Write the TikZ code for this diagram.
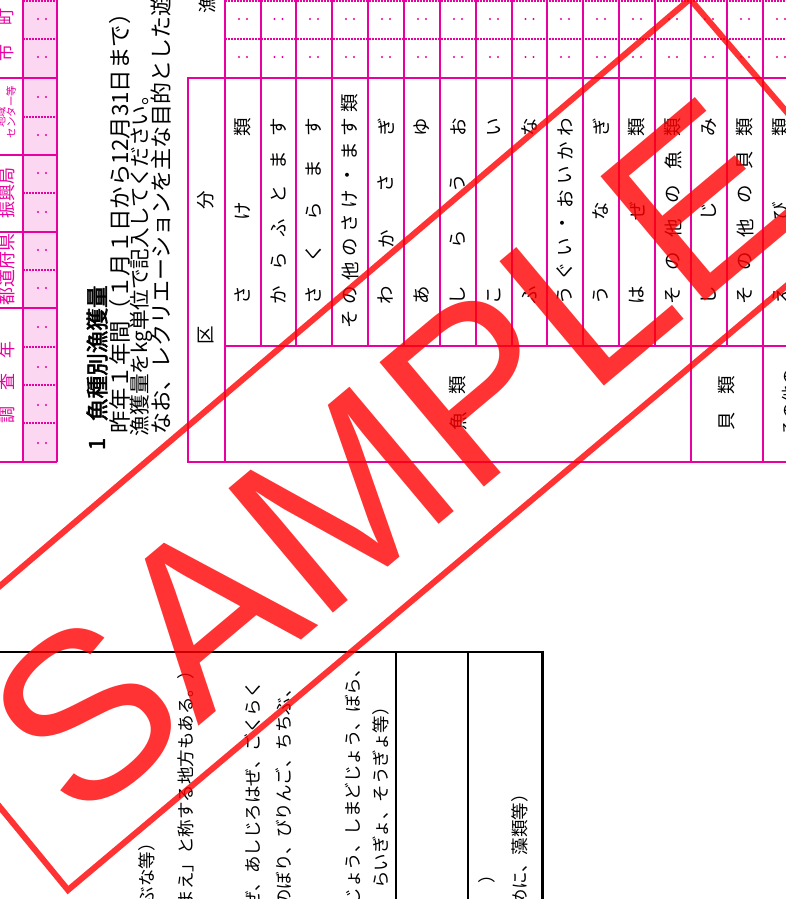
\documentclass[tikz,border=0pt]{standalone}
\usepackage{fontspec}
\newfontfamily\jp[AutoFakeBold=2.5]{Noto Sans CJK JP}
\newfontfamily\lsans{Liberation Sans}
\definecolor{fpink}{RGB}{232,0,160}
\definecolor{fpinkbg}{RGB}{252,215,241}
\definecolor{wred}{RGB}{255,0,0}
\begin{document}
\begin{tikzpicture}[x=1pt,y=-1pt,
  pline/.style={draw=fpink,line width=2pt},
  pdots/.style={draw=fpink,line width=1.8pt,dash pattern=on 1.8pt off 1.2pt},
  bline/.style={draw=black,line width=2.2pt},
  rt/.style={rotate=90,inner sep=0pt,outer sep=0pt},
  spc/.style={rt,font=\jp\fontsize{18.5}{20}\selectfont},
  plab/.style={rt,text=fpink,font=\jp\fontsize{17}{18}\selectfont},
  psmall/.style={rt,text=fpink,font=\jp\fontsize{10.5}{11}\selectfont},
  para/.style={rt,anchor=west,font=\jp\fontsize{22}{22}\selectfont},
  note/.style={rt,anchor=east,font=\jp\fontsize{17.5}{18}\selectfont},
  wm/.style={wred,opacity=0.8},
]
\useasboundingbox (0,0) rectangle (786,899);
\clip (0,0) rectangle (786,899);
\fill[white] (0,0) rectangle (786,899);

% ---------- pink header strip ----------
\fill[fpinkbg] (23,-5) rectangle (57,462);
\foreach \yy in {1,39,117,193,270,347,385,423} \draw[pdots] (23,\yy) -- (57,\yy);
\foreach \yy in {78,155,232,308,462} \draw[pline] (-5,\yy) -- (57,\yy);
\draw[pline] (23,-5) -- (23,462);
\draw[pline] (57,-5) -- (57,462);
\foreach \yy in {19,57,97,135,173,212,250,288,327,367,405,443} {
  \fill[fpink] (38,\yy) circle[radius=1.2pt];
  \fill[fpink] (46,\yy) circle[radius=1.2pt];
}
\node[plab] (lcity) at (6,53) {市};
\node[plab] (ltown) at (6,17) {町};
\node[psmall] (lreg1) at (1,117) {地域};
\node[psmall] (lreg2) at (11,112) {センター等};
\node[plab] (lsub) at (7,193) {振興局};
\node[plab,font=\jp\fontsize{18}{18}\selectfont] (lpref) at (7,269) {都道府県};
\node[plab] (ly1) at (7,415) {調};
\node[plab] (ly2) at (7,382) {査};
\node[plab] (ly3) at (7,350) {年};

% ---------- section heading and instructions ----------
\node[rt,font=\jp\bfseries\fontsize{22}{22}\selectfont] (tnum) at (97,444) {1};
\node[rt,anchor=west,font=\jp\bfseries\fontsize{22.6}{23}\selectfont] (title) at (97,421) {魚種別漁獲量};
\node[para,font=\jp\fontsize{22.4}{23}\selectfont] (p1) at (120,433) {昨年１年間（１月１日から12月31日まで）に};
\node[para,font=\jp\fontsize{20.6}{22}\selectfont] (p2) at (141,436) {漁獲量をkg単位で記入してください。};
\node[para] (p3) at (161,434) {なお、レクリエーションを主な目的とした遊};

% ---------- main table ----------
\foreach \xx in {261,296,332,368,404,440,476,512,547,583,619,655,727} \draw[pline] (\xx,-5) -- (\xx,346);
\foreach \xx in {225,691,763,799} \draw[pline] (\xx,-5) -- (\xx,462);
\draw[pline] (188,78) -- (188,462);
\draw[pline] (187,78) -- (805,78);
\draw[pline] (225,346) -- (805,346);
\draw[pline] (187,462) -- (805,462);
\foreach \yy in {1,39} \draw[pdots] (225,\yy) -- (805,\yy);
\foreach \xc in {243,278.5,314,350,386,422,458,494,529.5,565,601,637,673,709,745,781} {
  \fill[fpink] (\xc-4,19) circle[radius=1.2pt];
  \fill[fpink] (\xc+4,19) circle[radius=1.2pt];
  \fill[fpink] (\xc-4,57) circle[radius=1.2pt];
  \fill[fpink] (\xc+4,57) circle[radius=1.2pt];
}
\node[spc] (hgyo) at (207,4) {漁};
\node[spc] (hku) at (206,335) {区};
\node[spc] (hbun) at (206,200) {分};

\foreach \xc/\ys/\st/\chars [count=\r] in {
  243/295/84/{さ,け,類},
  278.5/295/33.6/{か,ら,ふ,と,ま,す},
  314/295/42/{さ,く,ら,ま,す},
  350/319/24/{そ,の,他,の,さ,け,・,ま,す,類},
  386/295/56/{わ,か,さ,ぎ},
  422/295/168/{あ,ゆ},
  458/295/56/{し,ら,う,お},
  494/295/168/{こ,い},
  529.5/295/168/{ふ,な},
  565/295/24/{う,ぐ,い,・,お,い,か,わ},
  601/295/84/{う,な,ぎ},
  637/295/84/{は,ぜ,類},
  673/295/33.6/{そ,の,他,の,魚,類},
  709/295/84/{し,じ,み},
  745/295/33.6/{そ,の,他,の,貝,類},
  781/295/84/{え,び,類}} {
  \foreach \c [count=\k from 0] in \chars {
    \node[spc] (s\r-\k) at (\xc,{\ys-\k*\st}) {\c};
  }
}
\node[spc] (g1a) at (458,421) {魚};
\node[spc] (g1b) at (458,385) {類};
\node[spc] (g2a) at (727,421) {貝};
\node[spc] (g2b) at (727,385) {類};
\node[rt,anchor=west,font=\jp\fontsize{17}{18}\selectfont] (g3) at (790,436) {その他の};

% ---------- lower notes box ----------
\draw[bline] (-5,652) -- (542,652);
\draw[bline] (396,652) -- (396,905);
\draw[bline] (468,652) -- (468,905);
\draw[draw=black,line width=3pt] (542,650.5) -- (542,905);
\node[note] (n1) at (147,834) {ぶな等）};
\node[note] (n2) at (186,662) {まえ」と称する地方もある。）};
\node[note] (n3) at (253,681) {ぜ、あしじろはぜ、ごくらく};
\node[note] (n4) at (284,680) {のぼり、びりんご、ちちぶ、};
\node[note] (n5) at (353,660) {じょう、しまどじょう、ぼら、};
\node[note] (n6) at (381,698) {らいぎょ、そうぎょ等）};
\node[note] (n7) at (487,866) {）};
\node[note] (n8) at (520,785) {めに、藻類等）};

% ---------- SAMPLE watermark ----------
\draw[wm,line width=6pt,line join=miter] (690,-1) -- (873,213) -- (68,890) -- (-107,677) -- cycle;
\node[rotate=40,inner sep=0pt,text=wred,text opacity=0.8,font=\lsans\fontsize{236}{236}\selectfont] (wmark) at (392,458) {SAMPLE};
\end{tikzpicture}
\end{document}
